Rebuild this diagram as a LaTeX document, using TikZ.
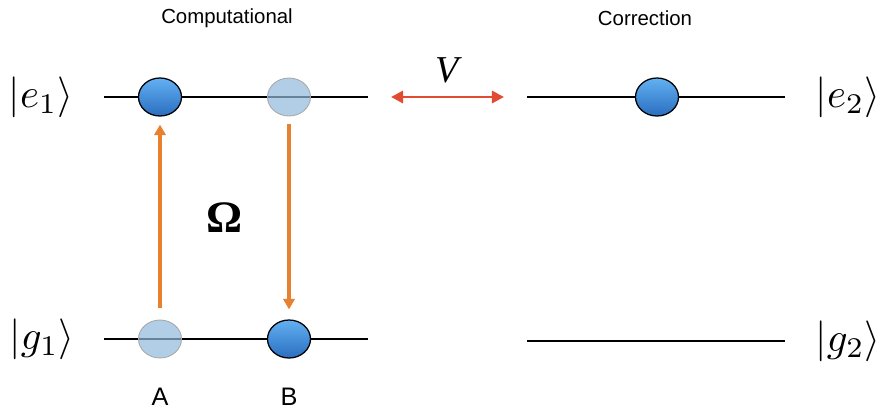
\documentclass[tikz,border=0pt]{standalone}
\usepackage{fontspec}
\setsansfont{Liberation Sans}
\newfontfamily\timesfont{Liberation Serif}
\usepackage{tikz}
\usetikzlibrary{positioning,arrows.meta,shapes.geometric}
\definecolor{balltop}{HTML}{62B0F2}
\definecolor{ballbot}{HTML}{2A6EBF}
\definecolor{fadeblue}{HTML}{92B8DC}
\definecolor{pumporange}{HTML}{E8812F}
\definecolor{couplered}{HTML}{E04B32}
\newcommand{\bigket}[1]{\scalebox{2.9}{$|#1\rangle$}}

\begin{document}
\begin{tikzpicture}[x=0.025cm,y=-0.025cm,
  level/.style={line width=1.6pt},
  atom/.style={ellipse,draw=black,line width=0.9pt,top color=balltop,bottom color=ballbot,minimum width=1.075cm,minimum height=0.95cm,inner sep=0pt},
  ghost/.style={ellipse,draw=gray!70,line width=0.6pt,fill=fadeblue,fill opacity=0.7,minimum width=1.075cm,minimum height=0.95cm,inner sep=0pt},
  head/.style={font=\sffamily\fontsize{14.5}{16}\selectfont},
  site/.style={font=\sffamily\fontsize{18}{20}\selectfont},
  pump/.style={-{Triangle[length=2.6mm,width=2.8mm]},line width=2.3pt,color=pumporange},
  couple/.style={{Triangle[length=3mm,width=3mm]}-{Triangle[length=3mm,width=3mm]},line width=2.1pt,color=couplered}
]
  \useasboundingbox (0,0) rectangle (883,410);
  % level ends
  \coordinate (e1l) at (104,97); \coordinate (e1r) at (368,97);
  \coordinate (g1l) at (104,339); \coordinate (g1r) at (368,339);
  \coordinate (e2l) at (527,97); \coordinate (e2r) at (785,97);
  \coordinate (g2l) at (527,341); \coordinate (g2r) at (785,341);
  \draw[level] (e1l) -- (e1r); \draw[level] (g1l) -- (g1r);
  \draw[level] (e2l) -- (e2r); \draw[level] (g2l) -- (g2r);
  % atoms
  \node[atom] (Ae) at (160,97) {};
  \node[ghost] (Be) at (289,97) {};
  \node[ghost] (Ag) at (160,339) {};
  \node[atom] (Bg) at (289,339) {};
  \node[atom] (Ce) at (657,97) {};
  % transitions
  \draw[pump,shorten <=3mm,shorten >=2mm] (Ag) -- (Ae);
  \draw[pump,shorten <=2mm,shorten >=2.5mm] (Be) -- (Bg);
  \draw[couple,shorten <=5.75mm,shorten >=5.75mm] (e1r) -- (e2l);
  % labels
  \node (ke1) at (41,97) {\bigket{e_1}};
  \node (kg1) at (42,339) {\bigket{g_1}};
  \node (ke2) at (848,97) {\bigket{e_2}};
  \node (kg2) at (848,341) {\bigket{g_2}};
  \node[head] (comp) at (227,18) {Computational};
  \node[head] (corr) at (645,18) {Correction};
  \node[font=\timesfont\itshape\fontsize{27}{29}\selectfont] (V) at (447,70) {V};
  \node[font=\timesfont\bfseries\fontsize{32}{34}\selectfont] (Om) at (225,218) {Ω};
  \node[site] (A) at (160,397) {A};
  \node[site] (B) at (289,397) {B};
\end{tikzpicture}
\end{document}
